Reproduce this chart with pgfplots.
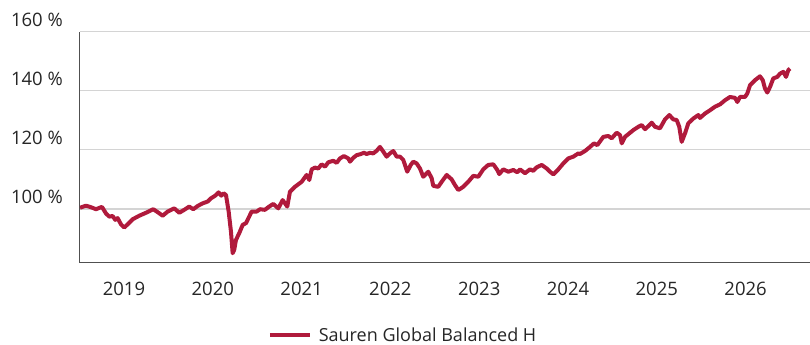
\documentclass[border=0pt]{standalone}
\usepackage{pgfplots}
\pgfplotsset{compat=1.18}
\usepackage{fontspec}
\setmainfont{Open Sans}
\definecolor{fundred}{RGB}{176,26,60}
\definecolor{gridgray}{RGB}{212,212,212}
\definecolor{axisgray}{RGB}{80,80,80}
\begin{document}
\begin{tikzpicture}
\begin{axis}[
  at={(0,0)}, anchor=south west,
  scale only axis,
  width=730bp, height=231bp,
  xmin=2018.505, xmax=2026.725,
  ymin=81.8, ymax=160,
  axis lines*=left,
  axis line style={axisgray, line width=1bp},
  xtick={2019,2020,2021,2022,2023,2024,2025,2026},
  xticklabels={2019,2020,2021,2022,2023,2024,2025,2026},
  ytick={100,120,140,160},
  yticklabels={100~\%,120~\%,140~\%,160~\%},
  major tick length=0pt,
  ymajorgrids,
  grid style={gridgray, line width=1.2bp},
  tick label style={font=\fontsize{18.5bp}{21bp}\selectfont, text=black!85},
  /pgf/number format/assume math mode=true,
  yticklabel style={anchor=south east, inner sep=0pt, xshift=-17bp, yshift=5bp},
  xticklabel style={anchor=north, inner sep=0pt, yshift=-19bp},
  legend style={at={(0.4425,-0.313)}, anchor=center, draw=none, fill=none,
    font=\fontsize{18bp}{21bp}\selectfont, text=black!85,
    inner sep=0pt, row sep=0pt},
  legend image code/.code={\draw[#1] (0bp,0bp) -- (40bp,0bp);},
  legend cell align=left,
]
\addplot[fundred, line width=4bp, line join=round] coordinates {
(2018.505,100.4) (2018.572,101.1) (2018.628,100.6) (2018.685,99.9) (2018.752,100.7)
(2018.797,98.5) (2018.834,97.4) (2018.873,97.6) (2018.902,96.3) (2018.929,96.9)
(2018.966,94.8) (2019.003,93.7) (2019.042,94.8) (2019.098,96.5) (2019.172,97.7)
(2019.248,98.7) (2019.330,99.9) (2019.380,98.9) (2019.436,97.7) (2019.492,99.1)
(2019.566,100.2) (2019.623,98.7) (2019.679,99.7) (2019.735,100.8) (2019.780,99.9)
(2019.830,101.0) (2019.886,101.9) (2019.943,102.5) (2019.980,103.6) (2020.028,104.5)
(2020.066,105.6) (2020.096,104.5) (2020.123,105.3) (2020.149,104.7) (2020.179,99.1)
(2020.205,92.3) (2020.224,85.0) (2020.242,86.2) (2020.261,89.5) (2020.298,91.8)
(2020.337,94.6) (2020.374,95.2) (2020.438,99.1) (2020.494,99.1) (2020.532,99.9)
(2020.588,99.7) (2020.625,100.6) (2020.681,101.7) (2020.738,100.2) (2020.787,103.0)
(2020.839,100.8) (2020.869,105.8) (2020.926,107.5) (2021.001,109.2) (2021.057,111.5)
(2021.087,109.8) (2021.114,113.4) (2021.151,114.0) (2021.188,113.7) (2021.226,115.1)
(2021.264,114.3) (2021.301,115.8) (2021.357,116.3) (2021.395,115.6) (2021.432,117.1)
(2021.477,117.9) (2021.526,117.1) (2021.545,116.0) (2021.582,117.3) (2021.620,118.2)
(2021.658,118.5) (2021.703,119.0) (2021.733,118.6) (2021.770,119.0) (2021.807,118.8)
(2021.846,119.7) (2021.883,121.0) (2021.920,119.4) (2021.958,117.7) (2021.995,118.8)
(2022.033,119.6) (2022.071,117.7) (2022.108,117.7) (2022.145,116.6) (2022.190,112.6)
(2022.229,114.9) (2022.258,116.0) (2022.296,115.4) (2022.333,113.7) (2022.370,110.9)
(2022.427,112.6) (2022.465,110.4) (2022.483,107.8) (2022.539,107.5) (2022.578,109.2)
(2022.634,111.5) (2022.690,110.0) (2022.727,108.1) (2022.765,106.4) (2022.821,107.5)
(2022.877,109.2) (2022.934,111.2) (2022.990,110.9) (2023.046,113.4) (2023.102,114.9)
(2023.159,115.1) (2023.204,113.2) (2023.226,111.8) (2023.271,113.4) (2023.328,112.6)
(2023.384,113.2) (2023.429,112.4) (2023.459,113.4) (2023.516,112.1) (2023.572,113.4)
(2023.609,112.9) (2023.648,114.1) (2023.704,114.9) (2023.760,113.7) (2023.797,112.6)
(2023.835,111.7) (2023.891,113.4) (2023.947,115.4) (2024.003,117.1) (2024.060,117.7)
(2024.116,118.8) (2024.135,118.6) (2024.191,119.6) (2024.248,121.0) (2024.293,122.2)
(2024.330,121.6) (2024.398,124.4) (2024.454,124.7) (2024.492,123.9) (2024.548,125.8)
(2024.586,125.0) (2024.605,122.2) (2024.642,124.4) (2024.679,125.3) (2024.736,126.7)
(2024.792,127.8) (2024.830,128.4) (2024.867,127.0) (2024.904,128.0) (2024.943,129.2)
(2024.980,127.8) (2025.036,127.3) (2025.092,130.3) (2025.141,131.8) (2025.186,130.3)
(2025.224,130.1) (2025.253,127.8) (2025.280,122.7) (2025.318,125.6) (2025.355,129.0)
(2025.411,130.6) (2025.468,131.8) (2025.486,130.8) (2025.543,132.3) (2025.599,133.4)
(2025.655,134.6) (2025.712,135.4) (2025.768,136.8) (2025.824,137.9) (2025.881,137.6)
(2025.907,136.2) (2025.937,137.9) (2025.993,137.9) (2026.019,139.1) (2026.050,141.9)
(2026.106,143.6) (2026.162,144.9) (2026.193,143.6) (2026.218,140.8) (2026.244,139.4)
(2026.275,141.3) (2026.312,144.2) (2026.357,144.7) (2026.387,145.8) (2026.425,146.4)
(2026.455,144.7) (2026.481,147.0) (2026.500,147.5)
};
\addlegendentry{\hspace{5bp}Sauren Global Balanced H}
\end{axis}
\pgfresetboundingbox
\path[use as bounding box] (-80bp,-82.3bp) rectangle (730bp,262.7bp);
\end{tikzpicture}
\end{document}
